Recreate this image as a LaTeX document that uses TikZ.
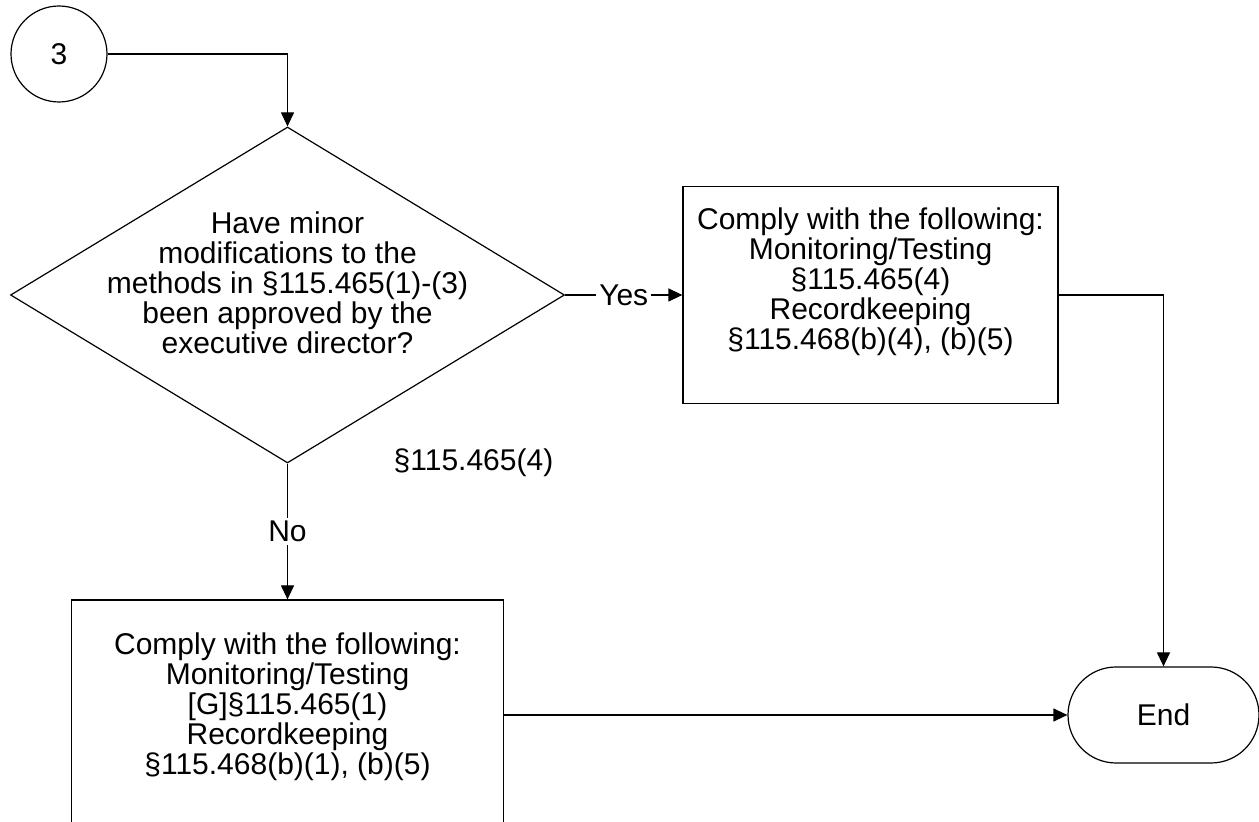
\documentclass[tikz,border=0pt]{standalone}
\usepackage{fontspec}
\setmainfont{Liberation Sans}
\usetikzlibrary{arrows.meta,shapes.geometric}

\begin{document}
\begin{tikzpicture}[x = 0.5pt, y = -0.5pt, line width=0.6pt,
		every node/.style={font=\fontsize{15pt}{15pt}\selectfont},
		flow/.style={-{Triangle[length=7pt, width=6.5pt]}},
		txt/.style={align=center, inner sep=0pt},
		lbl/.style={fill=white, inner sep=1.5pt}]
			\useasboundingbox (0,0) rectangle (1259,822);
			\clip (0,0) rectangle (1259,822);
			\node[draw, circle, minimum size=48pt, inner sep=0pt] (start) at (59,54) {3};
			\node[draw, diamond, minimum width=277pt, minimum height=168pt, inner sep=0pt] (ask) at (287.5,295) {};
			\node[txt] (asktext) at (287.5,283) {Have minor\\modifications to the\\methods in §115.465(1)-(3)\\been approved by the\\executive director?};
			\node[draw, minimum width=187.5pt, minimum height=108.5pt] (yesbox) at (870.5,295) {};
			\node[txt] (yestext) at (870.5,282) {Comply with the following:\\Monitoring/Testing\\§115.465(4)\\Recordkeeping\\§115.468(b)(4), (b)(5)};
			\node[draw, minimum width=216pt, minimum height=115pt] (lowbox) at (287.5,715) {};
			\node[txt] (lowtext) at (287.5,707) {Comply with the following:\\Monitoring/Testing\\{[G]}§115.465(1)\\Recordkeeping\\§115.468(b)(1), (b)(5)};
			\node[draw, rounded corners=24pt, minimum width=95.5pt, minimum height=48pt] (finish) at (1163.5,715) {End};
			\node[txt] (cite) at (473.5,463) {§115.465(4)};
			\draw[flow] (start.east) -| (ask.north);
			\draw[flow] (ask.east) -- node[lbl] {Yes} (yesbox.west);
			\draw[flow] (ask.south) -- node[lbl] {No} (lowbox.north);
			\draw[flow] (yesbox.east) -| (finish.north);
			\draw[flow] (lowbox.east) -- (finish.west);
	\end{tikzpicture}
\end{document}
